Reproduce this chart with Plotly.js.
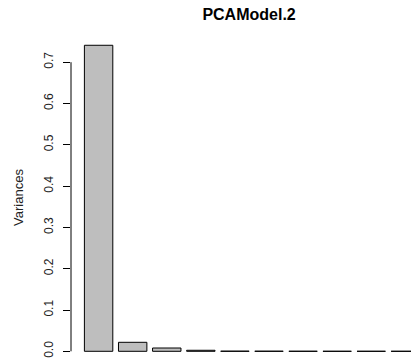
<!DOCTYPE html>
<html>
<head>
<meta charset="utf-8">
<script src="https://cdn.plot.ly/plotly-3.0.1.min.js"></script>
<style>html,body{margin:0;padding:0;background:#fff;}#chart{width:411px;height:362px;}</style>
</head>
<body>
<div id="chart"></div>
<script>
const components = ["Comp.1","Comp.2","Comp.3","Comp.4","Comp.5","Comp.6","Comp.7","Comp.8","Comp.9","Comp.10"];
const variances = [0.741, 0.0218, 0.008, 0.0025, 0.0004, 0.0003, 0.0002, 0.0001, 0.0001, 0.0001];
const tickValues = [0, 0.1, 0.2, 0.3, 0.4, 0.5, 0.6, 0.7];
const tickLabels = ["0.0","0.1","0.2","0.3","0.4","0.5","0.6","0.7"];

// R barplot positions: width 1, space 0.2 -> centers at 0.7 + 1.2*i
const xPos = components.map((c, i) => 0.7 + 1.2 * i);

const trace = {
  type: 'bar',
  x: xPos,
  y: variances,
  width: 1,
  text: components,
  hoverinfo: 'text+y',
  textposition: 'none',
  marker: {color: '#BEBEBE', line: {color: '#000000', width: 1}}
};

const layout = {
  width: 411, height: 362,
  margin: {l: 71, r: 0, t: 33, b: 0, pad: 0},
  paper_bgcolor: '#ffffff', plot_bgcolor: '#ffffff',
  showlegend: false,
  font: {family: 'Liberation Sans, Arial, sans-serif', color: '#000'},
  title: {text: '<b>PCAModel.2</b>', font: {size: 16, color: '#000'},
          xref: 'container', x: 0.606, xanchor: 'center',
          yref: 'container', y: 0.96, yanchor: 'middle'},
  xaxis: {range: [-0.272, 11.70], showgrid: false, zeroline: false, showline: false,
          showticklabels: false, ticks: ''},
  yaxis: {range: [-0.0259, 0.7707], showgrid: false, zeroline: false, showline: false,
          tickmode: 'array', tickvals: tickValues, ticktext: tickLabels,
          ticks: 'outside', ticklen: 7, tickwidth: 1, tickcolor: '#000',
          ticklabelstandoff: 5,
          tickangle: -90, tickfont: {size: 12, color: '#222'},
          title: {text: 'Variances', font: {size: 13, color: '#222'}, standoff: 15}},
  shapes: [{type: 'line', xref: 'paper', x0: 0, x1: 0, yref: 'y',
            y0: tickValues[0], y1: tickValues[tickValues.length - 1],
            line: {color: '#000', width: 1}}]
};

Plotly.newPlot('chart', [trace], layout, {staticPlot: true, displayModeBar: false});
</script>
</body>
</html>
